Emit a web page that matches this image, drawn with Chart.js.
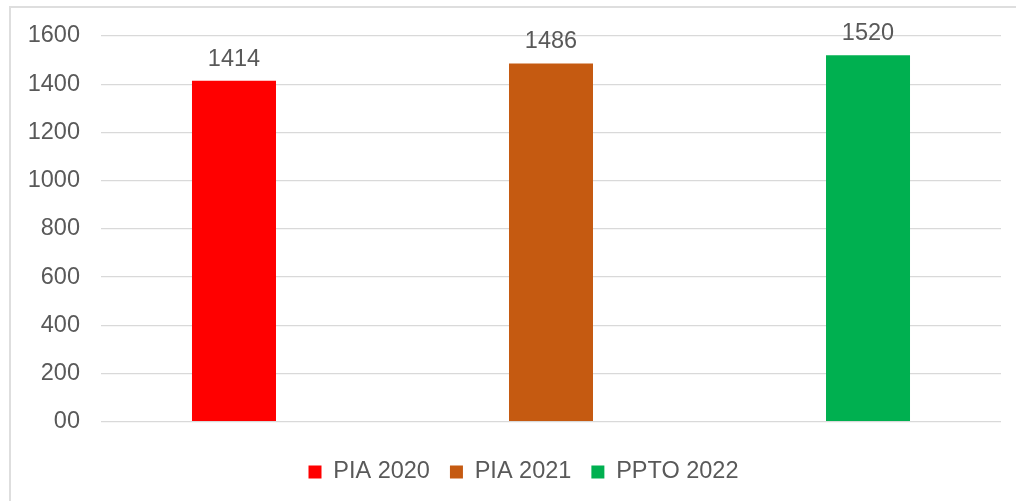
<!DOCTYPE html>
<html>
<head>
<meta charset="utf-8">
<script src="https://cdn.jsdelivr.net/npm/chart.js@4/dist/chart.umd.min.js"></script>
<style>
  html, body { margin: 0; padding: 0; background: #fff; }
  #frame { position: absolute; left: 9px; top: 6px; width: 1030px; height: 520px; border: 2px solid #dedede; }
  #wrap { position: absolute; left: 0; top: 0; width: 1016px; height: 501px; }
</style>
</head>
<body>
<div id="frame"></div>
<div id="wrap"><canvas id="myChart"></canvas></div>
<script>
const categories = ['PIA 2020', 'PIA 2021', 'PPTO 2022'];
const values = [1414, 1486, 1520];
const barColors = ['#FF0000', '#C55A11', '#00B050'];
const yTickLabels = ['00', '200', '400', '600', '800', '1000', '1200', '1400', '1600'];

const textColor = '#595959';
const fontFamily = '"Liberation Sans", Arial, sans-serif';

// value labels above each bar, legend nudged to the excel centre
const barValues = {
  id: 'barValues',
  beforeDraw(chart) {
    chart.legend.left = 46;
  },
  afterDatasetsDraw(chart) {
    const c = chart.ctx;
    c.save();
    c.font = '23.5px ' + fontFamily;
    c.fillStyle = textColor;
    c.textAlign = 'center';
    c.textBaseline = 'alphabetic';
    chart.data.datasets.forEach((ds, i) => {
      chart.getDatasetMeta(i).data.forEach((bar, j) => {
        c.fillText(String(ds.data[j]), bar.x, bar.y - 15);
      });
    });
    c.restore();
  }
};

const ctx = document.getElementById('myChart');

let chart = new Chart(ctx, {
  type: 'bar',
  data: {
    labels: [''],
    datasets: categories.map((name, i) => ({
      label: name,
      data: [values[i]],
      backgroundColor: barColors[i],
      borderWidth: 0,
      categoryPercentage: 1.0567,
      barPercentage: 0.265
    }))
  },
  options: {
    responsive: true,
    maintainAspectRatio: false,
    animation: false,
    layout: { padding: { left: 0, right: 15, top: 36, bottom: 7.25 } },
    plugins: {
      tooltip: { enabled: false },
      legend: {
        position: 'bottom',
        labels: {
          boxWidth: 13,
          boxHeight: 13,
          padding: 20,
          color: textColor,
          font: { family: fontFamily, size: 23.5 }
        }
      }
    },
    scales: {
      x: {
        display: true,
        grid: { display: false },
        border: { display: false },
        ticks: { display: false },
        afterFit: s => { s.height = 18.55; }
      },
      y: {
        min: 0,
        max: 1600,
        afterFit: s => { s.width = 101; },
        border: { display: false },
        grid: { color: '#d9d9d9', lineWidth: 1.3, drawTicks: false },
        ticks: {
          stepSize: 200,
          padding: 21,
          color: textColor,
          font: { family: fontFamily, size: 23.5 },
          callback: (v, i) => yTickLabels[i]
        }
      }
    }
  },
  plugins: [barValues]
});
</script>
</body>
</html>
